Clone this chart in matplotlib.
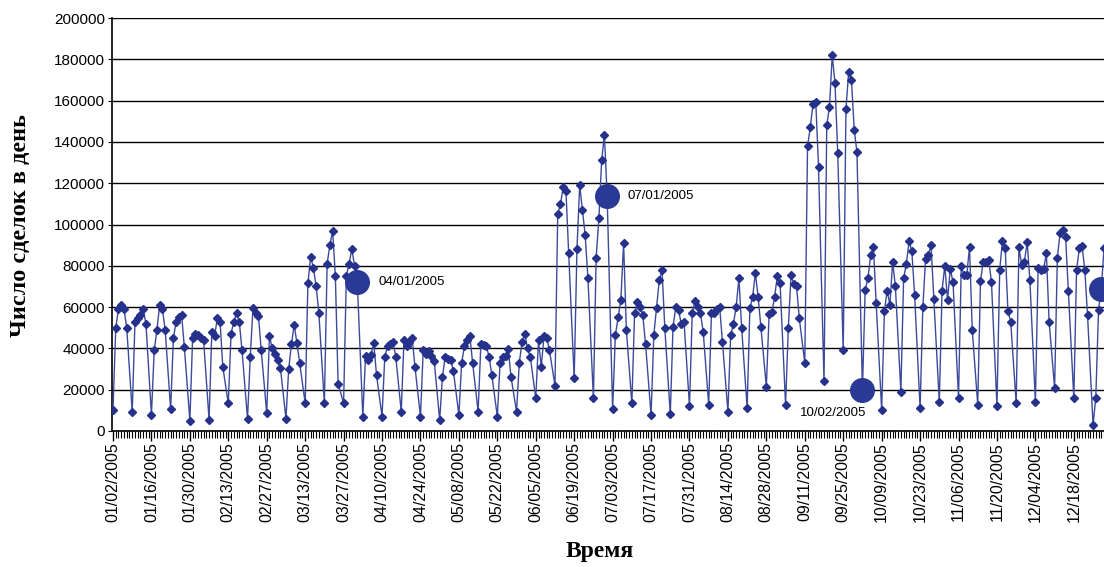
import matplotlib
matplotlib.use("Agg")
import matplotlib.pyplot as plt
import matplotlib.dates as mdates
import matplotlib.ticker as mticker
import pandas as pd

# daily trade counts, 2005; one row per week: Sun, Mon, Tue, Wed, Thu, Fri (no Saturdays)
trades_q1 = [
    10000, 50000, 59000, 61000, 59000, 50000,
    9300, 53000, 54500, 56000, 59000, 52000,
    7700, 39000, 49000, 61000, 59000, 49000,
    10500, 45000, 53000, 55000, 56000, 40500,
    5000, 45000, 47000, 46500, 45000, 44000,
    5300, 48000, 46000, 54500, 53000, 31000,
    13400, 47000, 53000, 57000, 53000, 39000,
    6000, 36000, 59500, 57000, 55500, 39000,
    8500, 46000, 40000, 37500, 34500, 30500,
    6000, 30000, 42000, 51500, 42500, 33000,
    13400, 71500, 84500, 79000, 70000, 57000,
    13400, 81000, 90000, 97000, 75000, 23000,
    13400, 75000, 81000, 88000, 80000, 72000,
]
trades_q2 = [
    7000, 36500, 34500, 37000, 42500, 27000,
    7000, 36000, 41000, 42000, 43000, 36000,
    9400, 44000, 41000, 43000, 45000, 31000,
    7000, 39000, 37500, 38500, 36500, 34000,
    5300, 26000, 36000, 35000, 34500, 29000,
    7700, 33000, 41000, 44000, 46000, 33000,
    9400, 42000, 41500, 41000, 36000, 27000,
    7000, 33000, 36000, 36500, 39500, 26000,
    9400, 33000, 43000, 47000, 40000, 36000,
    15800, 44000, 31000, 46000, 45000, 39000,
    22000, 105000, 110000, 118000, 116000, 86000,
    25500, 88000, 119000, 107000, 95000, 74000,
    15800, 84000, 103000, 131000, 143500, 114000,
]
trades_q3 = [
    10500, 46500, 55000, 63500, 91000, 49000,
    13400, 57000, 62500, 60000, 56000, 42000,
    7700, 46500, 59500, 73000, 78000, 50000,
    8000, 50500, 60000, 58500, 52000, 53000,
    12000, 57000, 63000, 60000, 57000, 48000,
    12600, 57000, 57000, 59000, 60000, 43000,
    9400, 46500, 52000, 60000, 74000, 50000,
    11000, 59500, 65000, 76500, 65000, 50500,
    21500, 56500, 57500, 65000, 75000, 71500,
    12600, 50000, 75500, 71000, 70000, 54500,
    33000, 138000, 147000, 158500, 159500, 128000,
    24000, 148000, 157000, 182000, 168500, 134500,
    39000, 156000, 174000, 170000, 146000, 135000,
]
trades_q4 = [
    20000, 68500, 74000, 85000, 89000, 62000,
    10000, 58000, 68000, 61000, 82000, 70000,
    19000, 74000, 81000, 92000, 87000, 66000,
    11000, 60000, 83500, 85000, 90000, 64000,
    14000, 68000, 80000, 63500, 78500, 72000,
    16000, 80000, 75500, 75500, 89000, 49000,
    12600, 72500, 82000, 82000, 83000, 72000,
    12000, 78000, 92000, 88500, 58000, 53000,
    13400, 89000, 80500, 82000, 91500, 73000,
    14000, 79000, 78000, 78500, 86000, 53000,
    20800, 84000, 96000, 97500, 94000, 68000,
    15800, 78000, 88500, 89500, 78000, 56000,
    3000, 16000, 58500, 69000, 88500, 80000,
]
marked_dates = ["2005-04-01", "2005-07-01", "2005-10-02", "2005-12-28"]
marked_labels = ["04/01/2005", "07/01/2005", "10/02/2005", ""]

days = pd.date_range("2005-01-02", "2005-12-30", freq="D")
days = days[days.dayofweek != 5]
trades = pd.Series(trades_q1 + trades_q2 + trades_q3 + trades_q4, index=days)

navy = "#26318c"
fig = plt.figure(figsize=(11.04, 5.67), dpi=100)
ax = fig.add_axes([112 / 1104, 136 / 567, 1003 / 1104, 413 / 567])

ax.plot(trades.index, trades.values, color="#3c4a9c", lw=1.0,
        marker="D", ms=4.2, mfc=navy, mec=navy, zorder=3)

for d, lab in zip(marked_dates, marked_labels):
    v = trades[pd.Timestamp(d)]
    ax.plot(pd.Timestamp(d), v, "o", ms=17, color="#2a3896", zorder=4)
    if lab == "10/02/2005":
        ax.annotate(lab, (pd.Timestamp(d), v), xytext=(-21, -17),
                    textcoords="offset points", ha="center", va="center",
                    fontsize=9.5, family="Liberation Sans")
    elif lab:
        ax.annotate(lab, (pd.Timestamp(d), v), xytext=(15, 0),
                    textcoords="offset points", ha="left", va="center",
                    fontsize=9.5, family="Liberation Sans")

start = mdates.date2num(pd.Timestamp("2005-01-02"))
ax.set_xlim(start - 0.364, start + 365)
ax.set_ylim(0, 200000)

ax.yaxis.set_major_locator(mticker.MultipleLocator(20000))
ax.yaxis.set_major_formatter(mticker.FuncFormatter(lambda v, p: f"{int(v)}"))
ax.grid(axis="y", color="black", lw=1.0)
ax.set_axisbelow(True)

major = pd.date_range("2005-01-02", "2005-12-31", freq="14D")
ax.xaxis.set_major_locator(mticker.FixedLocator(mdates.date2num(major)))
ax.xaxis.set_minor_locator(mdates.DayLocator())
ax.xaxis.set_major_formatter(mdates.DateFormatter("%m/%d/%Y"))
ax.tick_params(axis="x", which="major", length=7, width=1, pad=1,
               labelrotation=90, labelsize=11.5)
ax.tick_params(axis="x", which="minor", length=5, width=0.8)
ax.tick_params(axis="y", length=3, labelsize=11, pad=2)
for lab in ax.get_xticklabels() + ax.get_yticklabels():
    lab.set_family("Liberation Sans")

for s in ("top", "right"):
    ax.spines[s].set_visible(False)
ax.spines["left"].set_linewidth(1.2)
ax.spines["bottom"].set_linewidth(1.2)

fig.text(21 / 1104, 1 - 226 / 567, "Число сделок в день", rotation=90,
         ha="center", va="center", fontsize=17.5, fontweight="bold",
         family="Liberation Serif")
fig.text(600 / 1104, 1 - 551 / 567, "Время", ha="center", va="center",
         fontsize=17, fontweight="bold", family="Liberation Serif")

fig.savefig("out.png", dpi=100)
